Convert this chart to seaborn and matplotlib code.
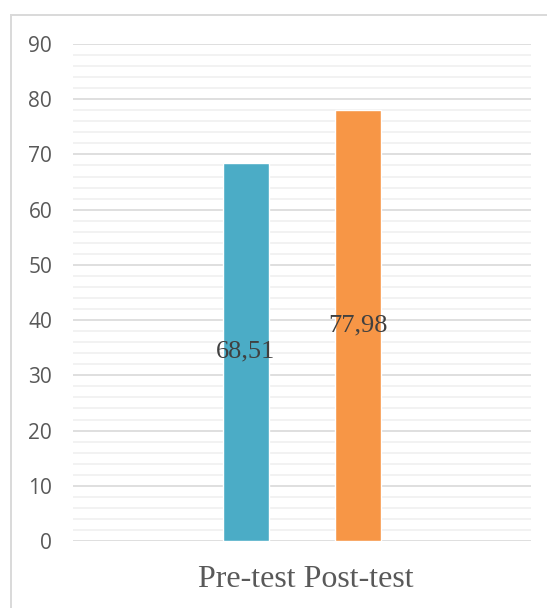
import matplotlib
matplotlib.use("Agg")
import matplotlib.pyplot as plt
from matplotlib.patches import Rectangle
from matplotlib.transforms import ScaledTranslation
import seaborn as sns
import pandas as pd

# Chart data
category = ["Pre-test Post-test"]
series = ["Pre-test", "Post-test"]
values = [68.51, 77.98]
value_labels = ["68,51", "77,98"]
colors = ["#4BACC6", "#F79646"]
y_ticks = list(range(0, 91, 10))

df = pd.DataFrame({
    "category": category * len(series),
    "series": series,
    "value": values,
})

sns.set_theme(style="white")
plt.rcParams["font.family"] = ["Open Sans", "DejaVu Sans"]

W, H = 547, 608
fig = plt.figure(figsize=(W / 100, H / 100), dpi=100)
fig.patch.set_facecolor("white")

# Outer chart frame (runs off the right and bottom edges)
fig.patches.append(Rectangle((11 / W, -0.05), 1.1, 1 - 15 / H + 0.05,
                             transform=fig.transFigure, fill=False,
                             edgecolor="#D9D9D9", linewidth=1.4, zorder=0))

ax = fig.add_axes([73 / W, 1 - 541 / H, (531 - 73) / W, (541 - 44) / H])

sns.barplot(data=df, x="category", y="value", hue="series",
            palette=colors, width=0.49, gap=0.59, saturation=1,
            legend=False, ax=ax, zorder=3)

ax.set_xlim(-0.5, 0.5)
ax.set_ylim(0, 90)
ax.set_yticks(y_ticks)
ax.set_yticks(range(0, 91, 2), minor=True)
ax.grid(axis="y", which="major", color="#D9D9D9", linewidth=1.2, zorder=0)
ax.grid(axis="y", which="minor", color="#F0F0F0", linewidth=1.2, zorder=0)
ax.grid(axis="x", visible=False)
ax.set_axisbelow(True)
for s in ax.spines.values():
    s.set_visible(False)

ax.set_xlabel("")
ax.set_ylabel("")
ax.tick_params(axis="y", which="both", length=0, pad=15, labelsize=15,
               labelcolor="#595959")
ax.tick_params(axis="x", length=0, pad=17)
shift = ScaledTranslation(4 / 100, 0, fig.dpi_scale_trans)
for lbl in ax.get_xticklabels():
    lbl.set_fontfamily(["Liberation Serif", "DejaVu Serif"])
    lbl.set_fontsize(23)
    lbl.set_color("#595959")
    lbl.set_transform(lbl.get_transform() + shift)

# Value labels centred in each bar
for patch, text in zip(ax.patches, value_labels):
    cx = patch.get_x() + patch.get_width() / 2
    cy = patch.get_height() / 2
    ax.text(cx, cy, text, ha="center", va="center", fontsize=19,
            color="#404040", family=["Liberation Serif", "DejaVu Serif"],
            zorder=5)

fig.savefig("out.png", dpi=100, facecolor="white")
